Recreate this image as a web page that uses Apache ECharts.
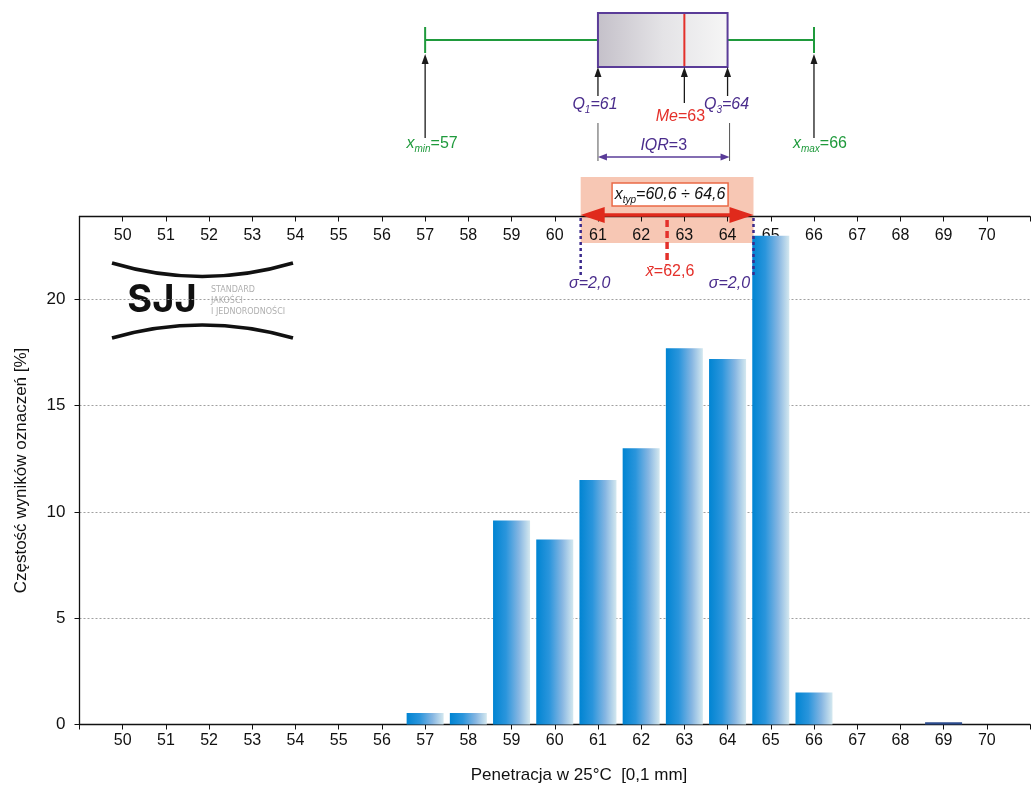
<!DOCTYPE html>
<html>
<head>
<meta charset="utf-8">
<script src="https://cdn.jsdelivr.net/npm/echarts@6/dist/echarts.min.js"></script>
<style>
  html, body { margin: 0; padding: 0; background: #ffffff; }
  #chart { width: 1033px; height: 789px; }
</style>
</head>
<body>
<div id="chart"></div>
<script>
// Penetration classes (0.1 mm) and share of results in each class [%]
const binLabels = [50, 51, 52, 53, 54, 55, 56, 57, 58, 59, 60, 61, 62, 63, 64, 65, 66, 67, 68, 69, 70];
const frequencies = [0, 0, 0, 0, 0, 0, 0, 0.54, 0.54, 9.6, 8.7, 11.5, 13.0, 17.7, 17.2, 23.0, 1.5, 0, 0, 0.1, 0];
const yTickValues = [0, 5, 10, 15, 20];

// Descriptive statistics: min, Q1, median, Q3, max; mean and standard deviation
const boxStats = [57, 61, 63, 64, 66];
const meanValue = 62.6;
const stdDev = 2.0;

const FONT = "'Liberation Sans Narrow', 'Arial Narrow', 'Liberation Sans', sans-serif";
const GREEN = '#1f9a3c';
const PURPLE = '#4a2c8c';
const RED = '#e4302a';

const fmt = (v, d) => v.toFixed(d).replace('.', ',');

const chart = echarts.init(document.getElementById('chart'), null, { renderer: 'canvas' });

const barColor = new echarts.graphic.LinearGradient(0, 0, 1, 0, [
  { offset: 0, color: '#0084d2' },
  { offset: 0.35, color: '#2a95dc' },
  { offset: 0.7, color: '#86b6e2' },
  { offset: 1, color: '#d4e8ef' }
]);

const richBase = {
  i: { fontStyle: 'italic', fontSize: 16, fontFamily: FONT, lineHeight: 20 },
  n: { fontSize: 16, fontFamily: FONT, lineHeight: 20 },
  s: { fontStyle: 'italic', fontSize: 10, fontFamily: FONT, lineHeight: 8, verticalAlign: 'bottom' }
};

function label(x, y, text, color) {
  return {
    type: 'text',
    style: {
      x: x, y: y, text: text, fill: color, align: 'center', verticalAlign: 'middle',
      font: '16px ' + FONT, rich: richBase
    }
  };
}

function arrowUp(x, yTip, yEnd, color) {
  const h = 10;
  return [
    { type: 'line', shape: { x1: x, y1: yTip + h - 1, x2: x, y2: yEnd }, style: { stroke: color, lineWidth: 1.3 } },
    { type: 'polygon', shape: { points: [[x, yTip], [x - 3.5, yTip + h], [x + 3.5, yTip + h]] }, style: { fill: color } }
  ];
}

function arrowBoth(xa, xb, y, color, lw, len, half) {
  return [
    { type: 'line', shape: { x1: xa + len - 2, y1: y, x2: xb - len + 2, y2: y }, style: { stroke: color, lineWidth: lw } },
    { type: 'polygon', shape: { points: [[xa, y], [xa + len, y - half], [xa + len, y + half]] }, style: { fill: color } },
    { type: 'polygon', shape: { points: [[xb, y], [xb - len, y - half], [xb - len, y + half]] }, style: { fill: color } }
  ];
}

// Typical-range band behind the top axis
function renderBand(params, api) {
  const X = v => api.coord([v, 0])[0];
  const xa = X(meanValue - stdDev), xb = X(meanValue + stdDev);
  return {
    type: 'group',
    children: [
      { type: 'rect', shape: { x: xa, y: 177, width: xb - xa, height: 66 }, style: { fill: '#f7c7b4' } }
    ]
  };
}

// Box plot and statistical annotations
function renderStats(params, api) {
  const X = v => api.coord([v, 0])[0];
  const [mn, q1, me, q3, mx] = boxStats;
  const xMin = X(mn), xQ1 = X(q1), xMe = X(me), xQ3 = X(q3), xMax = X(mx);
  const xLo = X(meanValue - stdDev), xHi = X(meanValue + stdDev), xMean = X(meanValue);
  const c = [];

  // whiskers
  c.push({ type: 'line', shape: { x1: xMin, y1: 40, x2: xQ1, y2: 40 }, style: { stroke: GREEN, lineWidth: 2 } });
  c.push({ type: 'line', shape: { x1: xQ3, y1: 40, x2: xMax, y2: 40 }, style: { stroke: GREEN, lineWidth: 2 } });
  c.push({ type: 'line', shape: { x1: xMin, y1: 27, x2: xMin, y2: 53 }, style: { stroke: GREEN, lineWidth: 2 } });
  c.push({ type: 'line', shape: { x1: xMax, y1: 27, x2: xMax, y2: 53 }, style: { stroke: GREEN, lineWidth: 2 } });
  // box
  c.push({
    type: 'rect', shape: { x: xQ1, y: 13, width: xQ3 - xQ1, height: 54 },
    style: {
      fill: new echarts.graphic.LinearGradient(0, 0, 1, 0, [
        { offset: 0, color: '#c4c0c9' }, { offset: 0.5, color: '#e4e3e6' }, { offset: 1, color: '#f6f6f6' }
      ]),
      stroke: '#5a3c98', lineWidth: 2
    }
  });
  c.push({ type: 'line', shape: { x1: xMe, y1: 14, x2: xMe, y2: 66 }, style: { stroke: RED, lineWidth: 2 } });

  // pointers to the five statistics
  c.push(...arrowUp(xMin, 54, 138, '#1a1a1a'));
  c.push(...arrowUp(xMax, 54, 138, '#1a1a1a'));
  c.push(...arrowUp(xQ1, 67, 96, '#1a1a1a'));
  c.push(...arrowUp(xMe, 67, 103, '#1a1a1a'));
  c.push(...arrowUp(xQ3, 67, 96, '#1a1a1a'));

  c.push(label(xMin + 7, 144, '{i|x}{s|min}{n|=' + mn + '}', GREEN));
  c.push(label(xMax + 6, 144, '{i|x}{s|max}{n|=' + mx + '}', GREEN));
  c.push(label(xQ1 - 3, 105, '{i|Q}{s|1}{i|=' + q1 + '}', PURPLE));
  c.push(label(xMe - 4, 117, '{i|Me}{n|=' + me + '}', RED));
  c.push(label(xQ3 - 1, 105, '{i|Q}{s|3}{i|=' + q3 + '}', PURPLE));

  // interquartile range
  c.push({ type: 'line', shape: { x1: xQ1, y1: 123, x2: xQ1, y2: 161 }, style: { stroke: '#555555', lineWidth: 1 } });
  c.push({ type: 'line', shape: { x1: xQ3 + 2, y1: 123, x2: xQ3 + 2, y2: 161 }, style: { stroke: '#555555', lineWidth: 1 } });
  c.push(...arrowBoth(xQ1, xQ3 + 2, 157, '#5a3c98', 1.5, 9, 3.5));
  c.push(label((xQ1 + xQ3) / 2 + 1, 146, '{i|IQR}{n|=' + (q3 - q1) + '}', PURPLE));

  // typical range box
  c.push({ type: 'rect', shape: { x: xMean - 55, y: 183, width: 116, height: 23 }, style: { fill: '#ffffff', stroke: '#ea6a46', lineWidth: 1.5 } });
  c.push(label(xMean + 3, 195,
    '{i|x}{s|typ}{i|=' + fmt(meanValue - stdDev, 1) + ' ÷ ' + fmt(meanValue + stdDev, 1) + '}', '#111111'));
  c.push(...arrowBoth(xLo, xHi, 215, '#e02a1c', 3.5, 24, 8));

  // mean
  c.push({ type: 'line', shape: { x1: xMean, y1: 220, x2: xMean, y2: 265 }, style: { stroke: '#e4302a', lineWidth: 3.5, lineDash: [7, 4] } });
  c.push(label(xMean + 3, 272, '{i|x\u0304}{n|=' + fmt(meanValue, 1) + '}', RED));

  // standard deviation limits
  c.push({ type: 'line', shape: { x1: xLo, y1: 218, x2: xLo, y2: 276 }, style: { stroke: '#3b2a8c', lineWidth: 2.5, lineDash: [3, 3] } });
  c.push({ type: 'line', shape: { x1: xHi, y1: 218, x2: xHi, y2: 276 }, style: { stroke: '#3b2a8c', lineWidth: 2.5, lineDash: [3, 3] } });
  c.push(label(xLo + 9, 284, '{i|\u03c3=' + fmt(stdDev, 1) + '}', PURPLE));
  c.push(label(xHi - 24, 284, '{i|\u03c3=' + fmt(stdDev, 1) + '}', PURPLE));

  return { type: 'group', children: c };
}

const xLabelFormatter = v => (binLabels.indexOf(v) >= 0 ? String(v) : '');

const option = {
  backgroundColor: '#ffffff',
  animation: false,
  grid: { left: 79.5, top: 216.5, width: 956, height: 508 },
  xAxis: [
    {
      type: 'value', min: 49, max: 71, interval: 1, position: 'bottom',
      axisLine: { show: true, lineStyle: { color: '#111111', width: 1.3 } },
      axisTick: { show: true, length: 5, lineStyle: { color: '#111111' } },
      axisLabel: { margin: 8, fontSize: 16, fontFamily: FONT, color: '#111111', formatter: xLabelFormatter },
      splitLine: { show: false }
    },
    {
      type: 'value', min: 49, max: 71, interval: 1, position: 'top',
      axisLine: { show: true, lineStyle: { color: '#111111', width: 1.3 } },
      axisTick: { show: true, inside: true, length: 5, lineStyle: { color: '#111111' } },
      axisLabel: { inside: true, margin: 11, fontSize: 16, fontFamily: FONT, color: '#111111', formatter: xLabelFormatter },
      splitLine: { show: false }
    }
  ],
  yAxis: {
    type: 'value', min: 0, max: 23.9, interval: 5,
    name: 'Częstość wyników oznaczeń [%]', nameLocation: 'middle', nameGap: 50, nameRotate: 90,
    nameTextStyle: { fontSize: 17, fontFamily: FONT, color: '#111111' },
    axisLine: { show: true, lineStyle: { color: '#111111', width: 1.3 } },
    axisTick: { show: true, length: 5, lineStyle: { color: '#111111' } },
    axisLabel: {
      margin: 14, fontSize: 17, fontFamily: FONT, color: '#111111', showMaxLabel: false,
      formatter: v => (yTickValues.indexOf(v) >= 0 ? String(v) : '')
    },
    splitLine: { show: true, lineStyle: { color: '#a0a0a0', width: 1, type: [2, 2] } }
  },
  graphic: [
    // SJJ emblem
    { type: 'bezierCurve', shape: { x1: 112, y1: 263, x2: 293, y2: 263, cpx1: 202, cpy1: 290 }, style: { stroke: '#111111', lineWidth: 3.5, fill: null } },
    { type: 'bezierCurve', shape: { x1: 112, y1: 338, x2: 293, y2: 338, cpx1: 202, cpy1: 312 }, style: { stroke: '#111111', lineWidth: 3.5, fill: null } },
    { type: 'text', style: { x: 162, y: 301, text: 'SJJ', fill: '#111111', font: 'bold 38px Inter, sans-serif', align: 'center', verticalAlign: 'middle' } },
    { type: 'text', style: { x: 211, y: 290, text: 'STANDARD', fill: '#b0b0b0', font: '8px DejaVu Sans, sans-serif', align: 'left', verticalAlign: 'middle' } },
    { type: 'text', style: { x: 211, y: 301, text: 'JAKOŚCI', fill: '#b0b0b0', font: '8px DejaVu Sans, sans-serif', align: 'left', verticalAlign: 'middle' } },
    { type: 'text', style: { x: 211, y: 312, text: 'I JEDNORODNOŚCI', fill: '#b0b0b0', font: '8px DejaVu Sans, sans-serif', align: 'left', verticalAlign: 'middle' } },
    // horizontal axis title
    { type: 'text', style: { x: 579, y: 775, text: 'Penetracja w 25°C  [0,1 mm]', fill: '#111111', font: '17px ' + FONT, align: 'center', verticalAlign: 'middle' } }
  ],
  series: [
    {
      type: 'custom', name: 'band', xAxisIndex: 0, yAxisIndex: 0, z: -1, clip: false, silent: true,
      renderItem: renderBand, data: [[meanValue, 0]]
    },
    {
      type: 'bar', name: 'frequency', xAxisIndex: 0, yAxisIndex: 0, barWidth: 37,
      itemStyle: { color: barColor },
      data: binLabels.map((b, i) => (frequencies[i] > 0 && frequencies[i] < 0.3)
        ? { value: [b, frequencies[i]], itemStyle: { color: '#2c4c8e' } }
        : [b, frequencies[i]])
    },
    {
      type: 'custom', name: 'stats', xAxisIndex: 0, yAxisIndex: 0, z: 5, clip: false, silent: true,
      renderItem: renderStats, data: [[meanValue, 0]]
    }
  ]
};

chart.setOption(option);
</script>
</body>
</html>
